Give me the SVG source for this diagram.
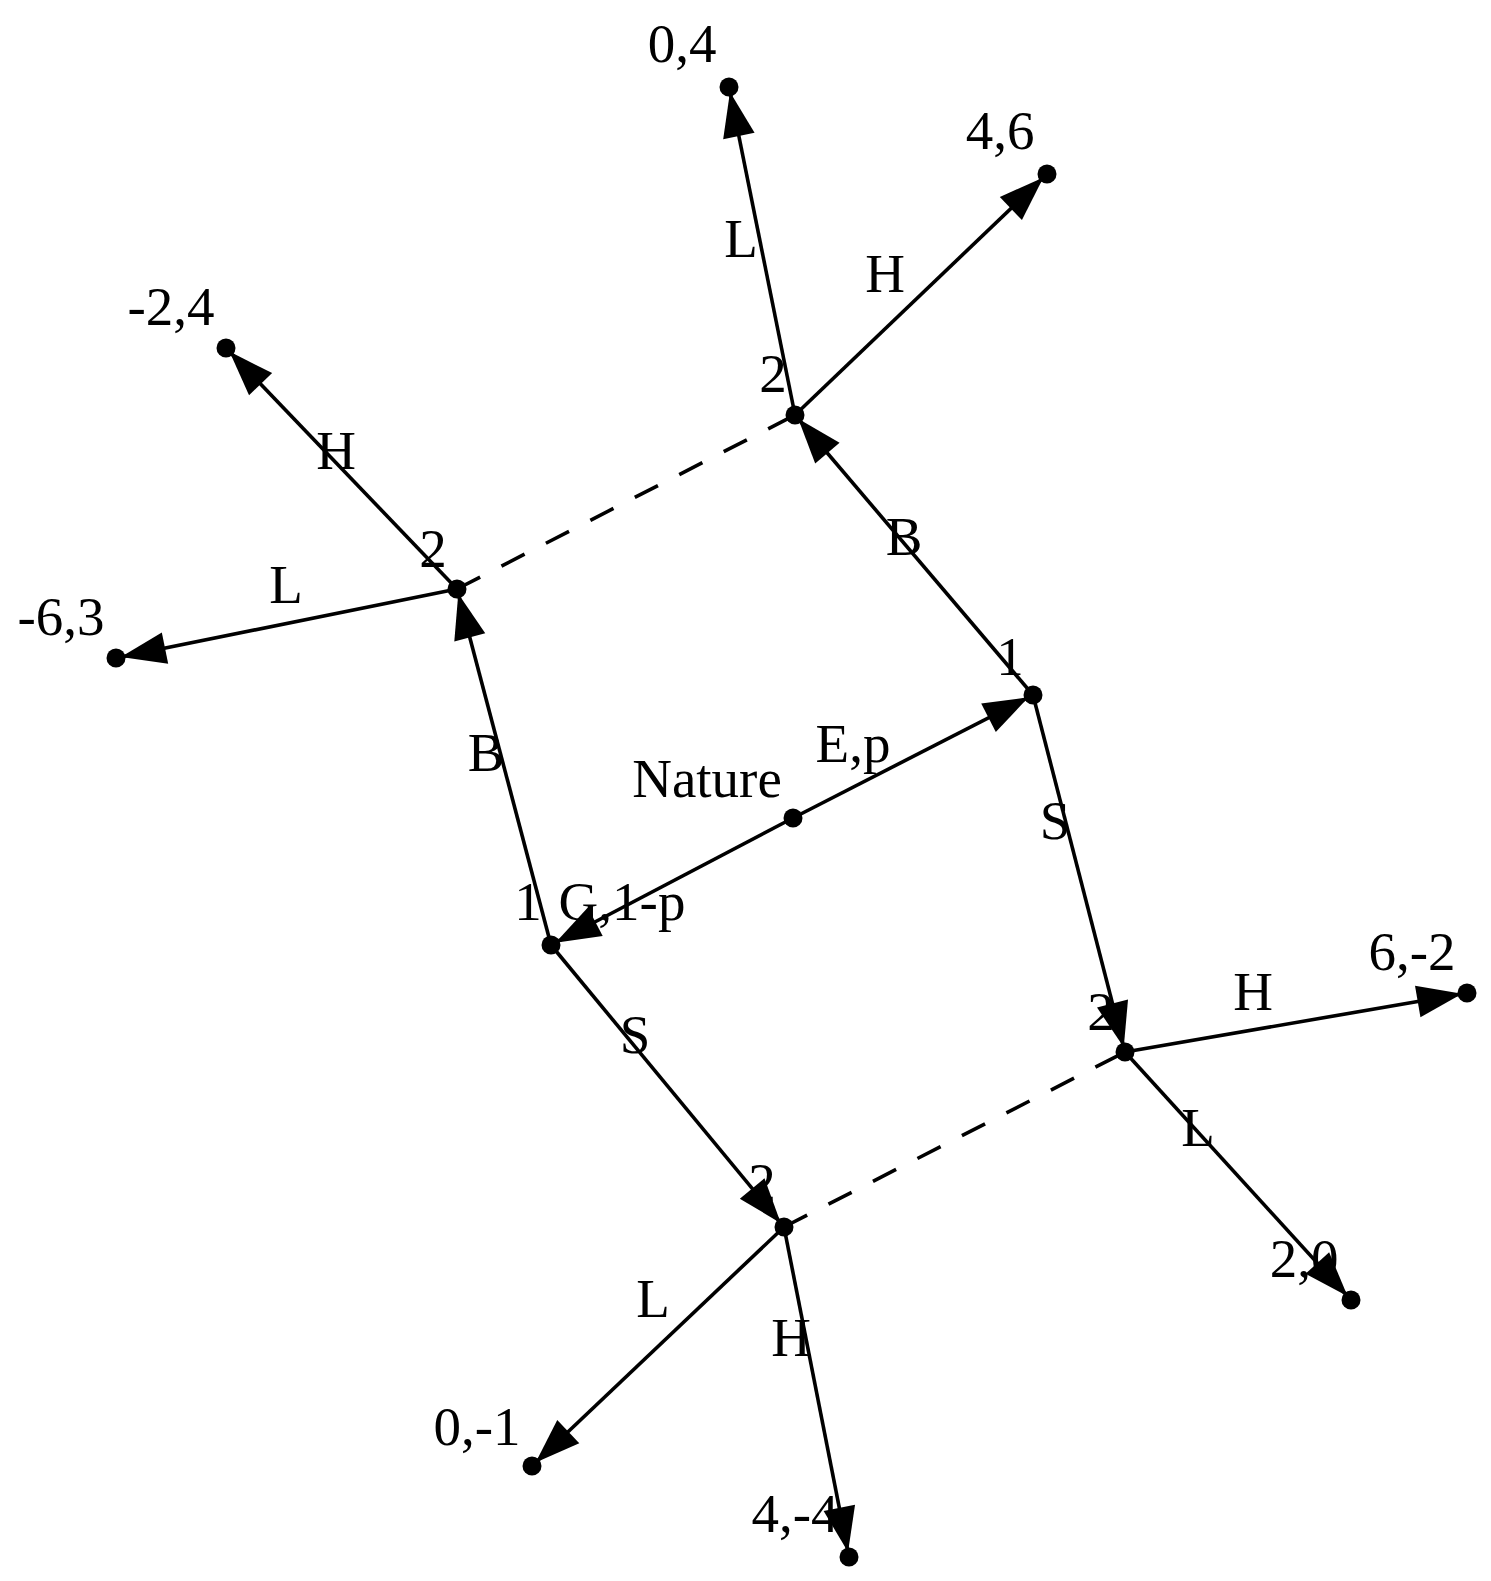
<svg xmlns="http://www.w3.org/2000/svg" width="1491" height="1581" viewBox="0 0 1491 1581">
<style>
text{font-family:"Liberation Serif","Times New Roman",serif;font-size:55px;fill:#000;text-anchor:middle}
.e{stroke:#000;stroke-width:3.6;fill:none}
.a{marker-end:url(#arr)}
.d{stroke-dasharray:26 24}
.dot{fill:#000}
</style>
<defs>
<marker id="arr" markerUnits="userSpaceOnUse" markerWidth="60" markerHeight="40" refX="50" refY="16" orient="auto" overflow="visible">
<path d="M0,0 L45,16 L0,32 Z" fill="#000"/>
</marker>
</defs>
<g id="nodes">
<g id="nature"><text x="707" y="797">Nature</text><circle class="dot" cx="793" cy="818" r="9.5"/></g>
<g id="p1r"><text x="1010" y="675">1</text><circle class="dot" cx="1033" cy="695" r="9.5"/></g>
<g id="p1l"><text x="528" y="920">1</text><circle class="dot" cx="551" cy="945" r="9.5"/></g>
<g id="p2t"><text x="773" y="392">2</text><circle class="dot" cx="795" cy="415" r="9.5"/></g>
<g id="p2l"><text x="433" y="567">2</text><circle class="dot" cx="457" cy="589" r="9.5"/></g>
<g id="p2r"><text x="1101" y="1030">2</text><circle class="dot" cx="1125" cy="1052" r="9.5"/></g>
<g id="p2b"><text x="762" y="1201">2</text><circle class="dot" cx="784" cy="1227" r="9.5"/></g>
<g id="t04"><text x="682" y="62">0,4</text><circle class="dot" cx="729" cy="87" r="9.5"/></g>
<g id="t46"><text x="1000" y="149">4,6</text><circle class="dot" cx="1047" cy="174" r="9.5"/></g>
<g id="tm24"><text x="171" y="325">-2,4</text><circle class="dot" cx="226" cy="348" r="9.5"/></g>
<g id="tm63"><text x="61" y="635">-6,3</text><circle class="dot" cx="116" cy="658" r="9.5"/></g>
<g id="t6m2"><text x="1412" y="970">6,-2</text><circle class="dot" cx="1467" cy="993" r="9.5"/></g>
<g id="t20"><text x="1304" y="1277">2,0</text><circle class="dot" cx="1351" cy="1300" r="9.5"/></g>
<g id="t0m1"><text x="477" y="1445">0,-1</text><circle class="dot" cx="532" cy="1466" r="9.5"/></g>
<g id="t4m4"><text x="795" y="1532">4,-4</text><circle class="dot" cx="849" cy="1557" r="9.5"/></g>
</g>
<g id="connectors">
<text x="853" y="762">E,p</text>
<text x="622" y="920">G,1-p</text>
<text x="741" y="257">L</text>
<text x="885" y="292">H</text>
<text x="336" y="469">H</text>
<text x="286" y="603">L</text>
<text x="904" y="555">B</text>
<text x="486" y="771">B</text>
<text x="1055" y="839">S</text>
<text x="1253" y="1010">H</text>
<text x="1198" y="1146">L</text>
<text x="635" y="1053">S</text>
<text x="653" y="1317">L</text>
<text x="791" y="1356">H</text>
<path class="e a" d="M793,818 L1033,695"/>
<path class="e a" d="M793,818 L551,945"/>
<path class="e a" d="M1033,695 L795,415"/>
<path class="e a" d="M1033,695 L1125,1052"/>
<path class="e a" d="M551,945 L457,589"/>
<path class="e a" d="M551,945 L784,1227"/>
<path class="e a" d="M795,415 L729,87"/>
<path class="e a" d="M795,415 L1047,174"/>
<path class="e a" d="M457,589 L226,348"/>
<path class="e a" d="M457,589 L116,658"/>
<path class="e a" d="M1125,1052 L1467,993"/>
<path class="e a" d="M1125,1052 L1351,1300"/>
<path class="e a" d="M784,1227 L532,1466"/>
<path class="e a" d="M784,1227 L849,1557"/>
<path class="e d" d="M457,589 L795,415"/>
<path class="e d" d="M784,1227 L1125,1052"/>
</g>
</svg>
